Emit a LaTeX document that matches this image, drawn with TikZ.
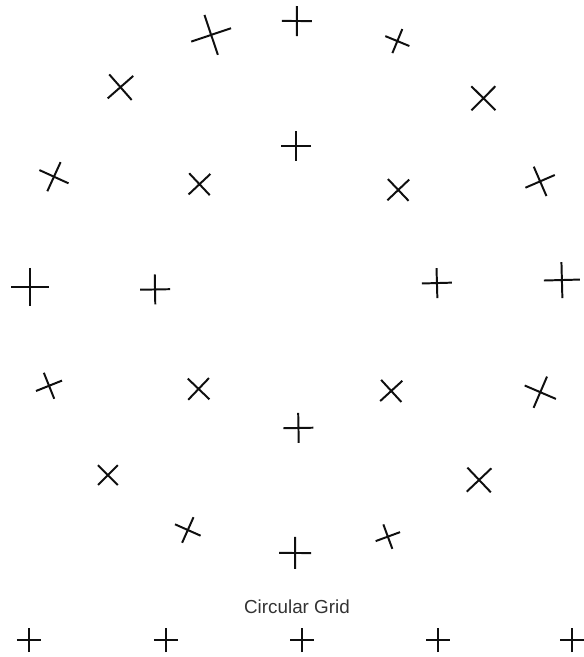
\documentclass[tikz,border=0pt]{standalone}
\usepackage{fontspec}
\setmainfont{Liberation Sans}
\definecolor{ink}{RGB}{15,15,15}
\tikzset{
  pics/mark/.style={code={
    \draw[ink,line width=1.4pt] (-#1,0) -- (#1,0) (0,-#1) -- (0,#1);
  }},
  pics/mark/.default=15,
  caption/.style={font=\fontsize{13.4}{16}\selectfont,text=ink!85},
}
\begin{document}
\begin{tikzpicture}[x=0.025cm,y=0.025cm]
  \useasboundingbox (-296,-370) rectangle (288,287);
  % outer ring, each mark turned with its angle
  \foreach \a/\s in {89.8/15,108.6/21,67.6/13,131.3/17,45.2/17,155.5/16,23.4/16,180/19,
                     1.5/18,201.8/14,-23.3/17,225/14,-46.5/17,246/14,269.8/16,-69.8/13}
    \pic[rotate=\a] at (\a:266) {mark=\s};
  % inner ring
  \foreach \a in {90,133.2,43.5,181,1.6,226.3,-47.5,-89}
    \pic[rotate=\a] at (\a:141) {mark=15};
  \node[caption] (title) at (1,-320) {Circular Grid};
  % straight row below
  \foreach \x in {-267,-130,6,142,276}
    \pic at (\x,-353) {mark=12};
\end{tikzpicture}
\end{document}
